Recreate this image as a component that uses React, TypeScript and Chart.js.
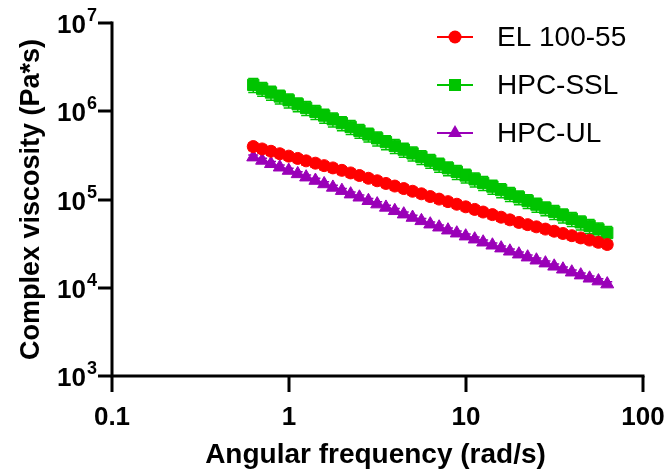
import React, { useEffect, useRef } from "react";
import { Chart, registerables } from "chart.js";

Chart.register(...registerables);

// Angular frequency (rad/s)
const frequencies = [
  0.628, 0.705, 0.791, 0.887, 0.996, 1.12, 1.25, 1.41, 1.58, 1.77, 1.99,
  2.23, 2.5, 2.81, 3.15, 3.53, 3.96, 4.45, 4.99, 5.6, 6.28, 7.05, 7.91,
  8.87, 9.96, 11.2, 12.5, 14.1, 15.8, 17.7, 19.9, 22.3, 25.0, 28.1, 31.5,
  35.3, 39.6, 44.5, 49.9, 56.0, 62.8,
];

// Complex viscosity (Pa*s)
const el10055 = [
  3.98e5, 3.74e5, 3.52e5, 3.3e5, 3.1e5, 2.92e5, 2.74e5, 2.58e5, 2.42e5,
  2.28e5, 2.14e5, 2.0e5, 1.87e5, 1.74e5, 1.63e5, 1.52e5, 1.42e5, 1.33e5,
  1.24e5, 1.16e5, 1.08e5, 1.01e5, 9.46e4, 8.84e4, 8.26e4, 7.72e4, 7.21e4,
  6.74e4, 6.3e4, 5.88e4, 5.5e4, 5.19e4, 4.9e4, 4.62e4, 4.37e4, 4.12e4,
  3.89e4, 3.67e4, 3.47e4, 3.27e4, 3.09e4,
];
const hpcSSL = [
  1.99e6, 1.8e6, 1.63e6, 1.47e6, 1.33e6, 1.2e6, 1.09e6, 9.86e5, 8.93e5,
  8.09e5, 7.33e5, 6.64e5, 6.01e5, 5.45e5, 4.93e5, 4.47e5, 4.05e5, 3.67e5,
  3.33e5, 3.03e5, 2.75e5, 2.49e5, 2.26e5, 2.06e5, 1.87e5, 1.69e5, 1.54e5,
  1.4e5, 1.28e5, 1.16e5, 1.06e5, 9.62e4, 8.75e4, 7.96e4, 7.26e4, 6.62e4,
  6.04e4, 5.51e4, 5.02e4, 4.58e4, 4.18e4,
];
const hpcUL = [
  3.02e5, 2.77e5, 2.54e5, 2.32e5, 2.13e5, 1.95e5, 1.79e5, 1.64e5, 1.5e5,
  1.37e5, 1.26e5, 1.15e5, 1.06e5, 9.68e4, 8.87e4, 8.13e4, 7.45e4, 6.82e4,
  6.25e4, 5.73e4, 5.25e4, 4.85e4, 4.49e4, 4.15e4, 3.84e4, 3.55e4, 3.28e4,
  3.03e4, 2.81e4, 2.59e4, 2.4e4, 2.22e4, 2.05e4, 1.9e4, 1.75e4, 1.62e4,
  1.5e4, 1.39e4, 1.28e4, 1.19e4, 1.1e4,
];

// relative error (SD) of each series
const el10055Err = 0.1;
const hpcSSLErr = 0.18;
const hpcULErr = 0.06;

const seriesNames = ["EL 100-55", "HPC-SSL", "HPC-UL"];
const xTickValues = [0.1, 1, 10, 100];
const xTickLabels = ["0.1", "1", "10", "100"];
const yTickExponents = [3, 4, 5, 6, 7];
const xTitle = "Angular frequency (rad/s)";
const yTitle = "Complex viscosity (Pa*s)";

const COLORS = ["#ff0000", "#00c400", "#9a00b8"];
const STYLES = ["circle", "rect", "triangle"];
const RADII = [6.5, 8.5, 8];
const FONT = "Arial, 'Liberation Sans', Helvetica, sans-serif";

function drawMarker(ctx: CanvasRenderingContext2D, style: string, x: number, y: number, r: number) {
  ctx.beginPath();
  if (style === "circle") {
    ctx.arc(x, y, r, 0, Math.PI * 2);
  } else if (style === "rect") {
    const s = r * Math.SQRT1_2;
    ctx.rect(x - s, y - s, 2 * s, 2 * s);
  } else {
    const a = (Math.PI * 2) / 3;
    ctx.moveTo(x, y - r);
    ctx.lineTo(x + Math.sin(a) * r, y - Math.cos(a) * r);
    ctx.lineTo(x - Math.sin(a) * r, y - Math.cos(a) * r);
    ctx.closePath();
  }
  ctx.fill();
}

const errorBars = {
  id: "errorBars",
  beforeDatasetsDraw(chart: any) {
    const ctx = chart.ctx;
    const xs = chart.scales.x;
    const ys = chart.scales.y;
    chart.data.datasets.forEach((ds: any) => {
      const e = ds.relErr || 0;
      ctx.save();
      ctx.strokeStyle = ds.borderColor;
      ctx.lineWidth = 1.5;
      ds.data.forEach((p: any) => {
        const px = xs.getPixelForValue(p.x);
        const y1 = ys.getPixelForValue(p.y * (1 + e));
        const y2 = ys.getPixelForValue(p.y * (1 - e));
        ctx.beginPath();
        ctx.moveTo(px, y1);
        ctx.lineTo(px, y2);
        ctx.moveTo(px - 5, y1);
        ctx.lineTo(px + 5, y1);
        ctx.moveTo(px - 5, y2);
        ctx.lineTo(px + 5, y2);
        ctx.stroke();
      });
      ctx.restore();
    });
  },
};

const frame = {
  id: "frame",
  afterDraw(chart: any) {
    const ctx: CanvasRenderingContext2D = chart.ctx;
    const xs = chart.scales.x;
    const ys = chart.scales.y;
    const { left, right, top, bottom } = chart.chartArea;
    ctx.save();
    ctx.strokeStyle = "#000";
    ctx.fillStyle = "#000";
    ctx.lineWidth = 3;
    ctx.lineCap = "square";
    // axes
    ctx.beginPath();
    ctx.moveTo(left, top);
    ctx.lineTo(left, bottom);
    ctx.lineTo(right, bottom);
    ctx.stroke();
    ctx.lineCap = "butt";
    // x ticks
    xTickValues.forEach((v, i) => {
      const px = Math.round(xs.getPixelForValue(v));
      ctx.beginPath();
      ctx.moveTo(px, bottom);
      ctx.lineTo(px, bottom + 16);
      ctx.stroke();
      ctx.font = `bold 26px ${FONT}`;
      ctx.textAlign = "center";
      ctx.textBaseline = "alphabetic";
      ctx.fillText(xTickLabels[i], px, bottom + 49);
    });
    // y ticks
    yTickExponents.forEach((ex) => {
      const py = Math.round(ys.getPixelForValue(Math.pow(10, ex)));
      ctx.beginPath();
      ctx.moveTo(left - 14, py);
      ctx.lineTo(left, py);
      ctx.stroke();
      const sup = String(ex);
      ctx.font = `bold 18px ${FONT}`;
      const supW = ctx.measureText(sup).width;
      ctx.textAlign = "right";
      ctx.textBaseline = "alphabetic";
      const endX = left - 15;
      ctx.fillText(sup, endX, py - 2);
      ctx.font = `bold 26px ${FONT}`;
      ctx.fillText("10", endX - supW - 1, py + 10);
    });
    // titles
    ctx.font = `bold 28px ${FONT}`;
    ctx.textAlign = "center";
    ctx.textBaseline = "alphabetic";
    ctx.fillText(xTitle, (left + right) / 2 - 2, 463);
    ctx.font = `bold 27px ${FONT}`;
    ctx.save();
    ctx.translate(39, (top + bottom) / 2);
    ctx.rotate(-Math.PI / 2);
    ctx.fillText(yTitle, 0, 0);
    ctx.restore();
    // legend
    seriesNames.forEach((name, i) => {
      const ly = 37 + i * 48;
      ctx.strokeStyle = COLORS[i];
      ctx.fillStyle = COLORS[i];
      ctx.lineWidth = 2;
      ctx.beginPath();
      ctx.moveTo(437, ly);
      ctx.lineTo(473, ly);
      ctx.stroke();
      drawMarker(ctx, STYLES[i], 455, ly, RADII[i]);
      ctx.fillStyle = "#000";
      ctx.font = `28px ${FONT}`;
      ctx.textAlign = "left";
      ctx.textBaseline = "middle";
      ctx.fillText(name, 497, ly + 1);
    });
    ctx.restore();
  },
};

export default function App() {
  const ref = useRef<HTMLCanvasElement | null>(null);
  useEffect(() => {
    document.body.style.margin = "0";
    const canvas = ref.current;
    if (!canvas) return;
    const series = [el10055, hpcSSL, hpcUL];
    const errs = [el10055Err, hpcSSLErr, hpcULErr];
    const chart = new Chart(canvas, {
      type: "line",
      data: {
        datasets: series.map((vals, i) => ({
          label: seriesNames[i],
          data: frequencies.map((f, j) => ({ x: f, y: vals[j] })),
          borderColor: COLORS[i],
          backgroundColor: COLORS[i],
          pointBackgroundColor: COLORS[i],
          pointBorderColor: COLORS[i],
          pointStyle: STYLES[i],
          pointRadius: RADII[i] - 0.5,
          pointBorderWidth: 1,
          borderWidth: 1.5,
          tension: 0,
          relErr: errs[i],
        })) as any,
      },
      options: {
        animation: false,
        responsive: false,
        events: [],
        layout: { padding: { left: 112, top: 23, right: 24, bottom: 93 } },
        scales: {
          x: { type: "logarithmic", min: 0.1, max: 100, display: false },
          y: { type: "logarithmic", min: 1e3, max: 1e7, display: false },
        },
        plugins: { legend: { display: false }, tooltip: { enabled: false } },
      },
      plugins: [errorBars, frame],
    });
    return () => chart.destroy();
  }, []);
  return (
    <div style={{ position: "absolute", left: 0, top: 0, width: 667, height: 469, background: "#fff" }}>
      <canvas ref={ref} width={667} height={469} />
    </div>
  );
}
